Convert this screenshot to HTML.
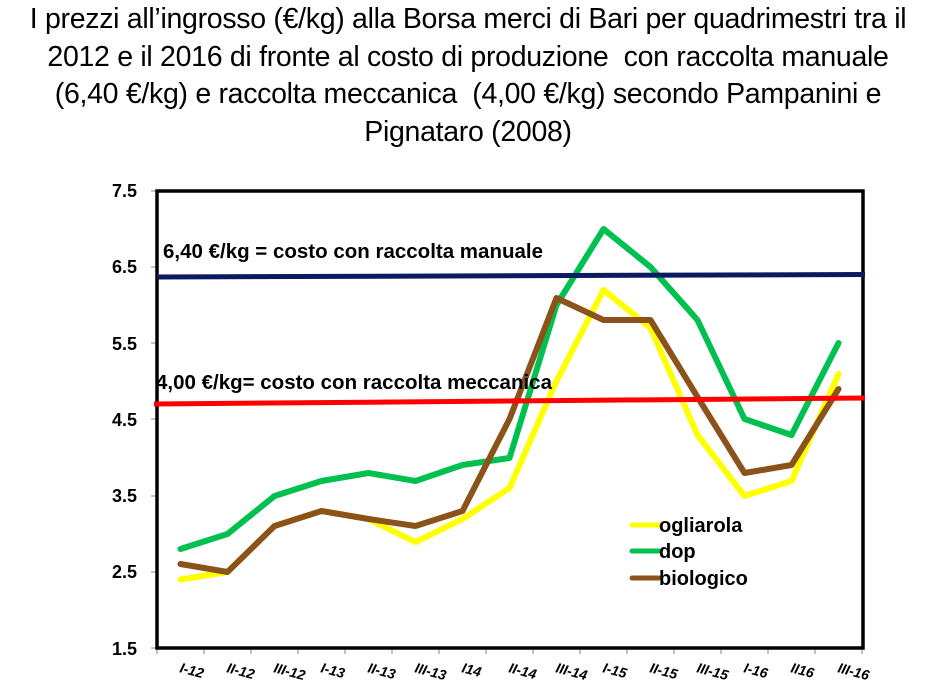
<!DOCTYPE html>
<html><head><meta charset="utf-8"><style>
html,body{margin:0;padding:0;background:#fff;width:936px;height:696px;overflow:hidden}
.t{position:absolute;left:-20px;width:976px;text-align:center;font-family:"Liberation Sans",sans-serif;font-size:28.5px;color:#000;line-height:37.5px;top:0;letter-spacing:-0.3px}
</style></head><body>
<div class="t" style="top:1px">I prezzi all’ingrosso (€/kg) alla Borsa merci di Bari per quadrimestri tra il<br>2012 e il 2016 di fronte al costo di produzione&nbsp; con raccolta manuale<br>(6,40 €/kg) e raccolta meccanica&nbsp; (4,00 €/kg) secondo Pampanini e<br>Pignataro (2008)</div>
<svg width="936" height="696" style="position:absolute;left:0;top:0" font-family="Liberation Sans, sans-serif">
<g font-weight="bold" font-size="18" text-anchor="end">
<text x="137" y="197">7.5</text><text x="137" y="273">6.5</text><text x="137" y="350">5.5</text>
<text x="137" y="426">4.5</text><text x="137" y="502">3.5</text><text x="137" y="578">2.5</text><text x="137" y="655">1.5</text>
</g>
<g stroke="#888" stroke-width="1">
<line x1="151" y1="191" x2="157" y2="191"/><line x1="151" y1="267" x2="157" y2="267"/><line x1="151" y1="343" x2="157" y2="343"/><line x1="151" y1="419" x2="157" y2="419"/><line x1="151" y1="496" x2="157" y2="496"/><line x1="151" y1="572" x2="157" y2="572"/><line x1="151" y1="648" x2="157" y2="648"/>
<line x1="157" y1="648" x2="157" y2="654"/><line x1="204" y1="648" x2="204" y2="654"/><line x1="251" y1="648" x2="251" y2="654"/><line x1="298" y1="648" x2="298" y2="654"/><line x1="345" y1="648" x2="345" y2="654"/><line x1="392" y1="648" x2="392" y2="654"/><line x1="439" y1="648" x2="439" y2="654"/><line x1="486" y1="648" x2="486" y2="654"/><line x1="533" y1="648" x2="533" y2="654"/><line x1="580" y1="648" x2="580" y2="654"/><line x1="627" y1="648" x2="627" y2="654"/><line x1="674" y1="648" x2="674" y2="654"/><line x1="721" y1="648" x2="721" y2="654"/><line x1="768" y1="648" x2="768" y2="654"/><line x1="815" y1="648" x2="815" y2="654"/><line x1="862" y1="648" x2="862" y2="654"/>
</g>
<rect x="157" y="191" width="706" height="457" fill="none" stroke="#000" stroke-width="3.5"/>
<g fill="none" stroke-width="6" stroke-linejoin="round" stroke-linecap="round">
<polyline stroke="#ffff00" points="180.5,579.5 227.5,572 274.5,526 321.5,511 368.5,519 415.5,542 462.5,519 509.5,488 556.5,381 603.5,290 650.5,328 697.5,435 744.5,496 791.5,481 838.5,374"/>
<polyline stroke="#00c050" points="180.5,549 227.5,534 274.5,496 321.5,481 368.5,473 415.5,481 462.5,465 509.5,458 556.5,305 603.5,229 650.5,267 697.5,320 744.5,419 791.5,435 838.5,343"/>
<polyline stroke="#8b5219" points="180.5,564 227.5,572 274.5,526 321.5,511 368.5,519 415.5,526 462.5,511 509.5,419 556.5,298 603.5,320 650.5,320 697.5,397 744.5,473 791.5,465 838.5,389"/>
</g>
<line x1="157" y1="277" x2="865" y2="274.5" stroke="#0d1a60" stroke-width="5"/>
<line x1="154" y1="404" x2="865" y2="398" stroke="#ff0000" stroke-width="5"/>
<g font-weight="bold" font-size="20.5">
<text x="163" y="258">6,40 €/kg = costo con raccolta manuale</text>
<text x="156" y="389">4,00 €/kg= costo con raccolta meccanica</text>
</g>
<g stroke-width="5" stroke-linecap="round">
<line x1="632" y1="525" x2="659" y2="525" stroke="#ffff00"/>
<line x1="632" y1="551" x2="659" y2="551" stroke="#00c050"/>
<line x1="632" y1="578" x2="659" y2="578" stroke="#8b5219"/>
</g>
<g font-weight="bold" font-size="20">
<text x="659" y="532">ogliarola</text><text x="659" y="558">dop</text><text x="659" y="585">biologico</text>
</g>
<g font-weight="bold" font-style="italic" font-size="14">
<text transform="translate(179,672) rotate(15)">I-12</text>
<text transform="translate(226,672) rotate(15)">II-12</text>
<text transform="translate(273,672) rotate(15)">III-12</text>
<text transform="translate(320,672) rotate(15)">I-13</text>
<text transform="translate(367,672) rotate(15)">II-13</text>
<text transform="translate(414,672) rotate(15)">III-13</text>
<text transform="translate(461,672) rotate(15)">I14</text>
<text transform="translate(508,672) rotate(15)">II-14</text>
<text transform="translate(555,672) rotate(15)">III-14</text>
<text transform="translate(602,672) rotate(15)">I-15</text>
<text transform="translate(649,672) rotate(15)">II-15</text>
<text transform="translate(696,672) rotate(15)">III-15</text>
<text transform="translate(743,672) rotate(15)">I-16</text>
<text transform="translate(790,672) rotate(15)">II16</text>
<text transform="translate(837,672) rotate(15)">III-16</text>
</g>
</svg>
</body></html>
